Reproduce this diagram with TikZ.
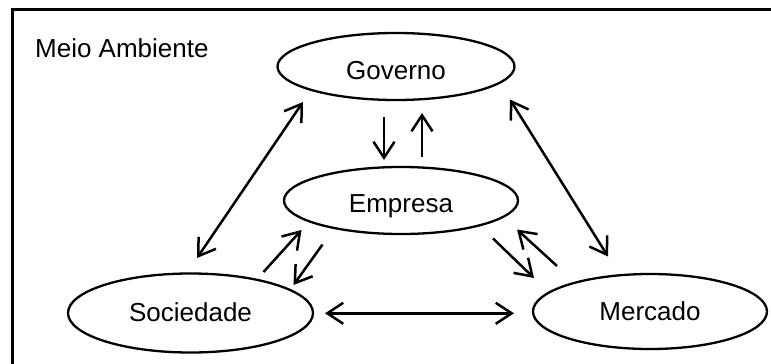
\documentclass[tikz,border=0pt]{standalone}
\usepackage{fontspec}
\setmainfont{Liberation Sans}
\usetikzlibrary{arrows.meta,shapes.geometric}
\begin{document}
\begin{tikzpicture}[x=1pt,y=-1pt,
  lbl/.style={font=\fontsize{26}{30}\selectfont},
  oval/.style={ellipse, draw, line width=2.3pt, inner sep=0pt, lbl,
    text height=18.6pt, text depth=0pt},
  onearrow/.style={line width=2.5pt, -{Straight Barb[length=16pt,width=21pt]}},
  twoarrow/.style={line width=2.5pt, {Straight Barb[length=16pt,width=21pt]}-{Straight Barb[length=16pt,width=21pt]}}]
\useasboundingbox (0,0) rectangle (771,364);
\clip (0,0) rectangle (771,364);

% surrounding environment
\draw[line width=3pt] (12,9) rectangle (800,400);
\node[lbl, anchor=base west, inner sep=0pt] (env) at (35,57) {Meio Ambiente};

% actors
\node[oval, minimum width=237pt, minimum height=67pt, text height=25.6pt] (gov) at (396,66.5) {Governo};
\node[oval, minimum width=234pt, minimum height=67pt, text height=23.6pt] (emp) at (401,200.5) {Empresa};
\node[oval, minimum width=245pt, minimum height=79pt, text depth=2pt] (soc) at (190.5,313) {Sociedade};
\node[oval, minimum width=234pt, minimum height=75pt] (mer) at (650,311.5) {Mercado};

% arrow end points
\coordinate (gs1) at ([shift={(-93,35.5)}]gov.center);
\coordinate (gs2) at ([shift={(6.5,-55)}]soc.center);
\coordinate (gm1) at ([shift={(114,33)}]gov.center);
\coordinate (gm2) at ([shift={(-42,-55)}]mer.center);
\coordinate (sm1) at ([shift={(134.5,0.3)}]soc.center);
\coordinate (sm2) at ([shift={(-136,1.8)}]mer.center);
\coordinate (ge1) at ([shift={(-12,50.5)}]gov.center);
\coordinate (ge2) at ([shift={(-17,-40.5)}]emp.center);
\coordinate (eg1) at ([shift={(21,-43.5)}]emp.center);
\coordinate (eg2) at ([shift={(26,46.5)}]gov.center);
\coordinate (se1) at ([shift={(73,-41)}]soc.center);
\coordinate (se2) at ([shift={(-99.5,29.5)}]emp.center);
\coordinate (es1) at ([shift={(-78.5,44)}]emp.center);
\coordinate (es2) at ([shift={(103,-28)}]soc.center);
\coordinate (em1) at ([shift={(92,38)}]emp.center);
\coordinate (em2) at ([shift={(-116,-33.5)}]mer.center);
\coordinate (me1) at ([shift={(-93,-45.5)}]mer.center);
\coordinate (me2) at ([shift={(116,29)}]emp.center);

% relations
\draw[twoarrow] (gs2) -- (gs1);
\draw[twoarrow] (gm1) -- (gm2);
\draw[twoarrow] (sm1) -- (sm2);
\draw[onearrow] (ge1) -- (ge2);
\draw[onearrow] (eg1) -- (eg2);
\draw[onearrow] (se1) -- (se2);
\draw[onearrow] (es1) -- (es2);
\draw[onearrow] (em1) -- (em2);
\draw[onearrow] (me1) -- (me2);
\end{tikzpicture}
\end{document}
